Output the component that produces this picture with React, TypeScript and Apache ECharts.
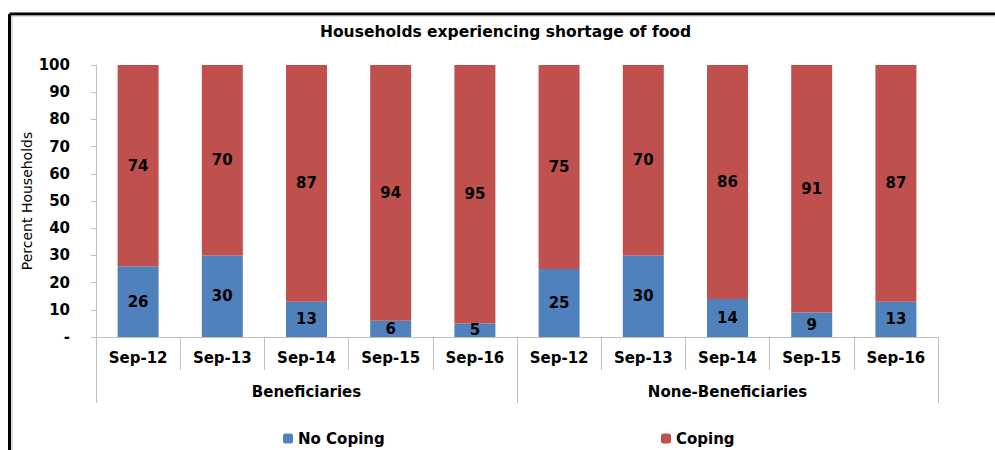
import React, { useEffect, useRef } from "react";
import * as echarts from "echarts";

const periods = ["Sep-12", "Sep-13", "Sep-14", "Sep-15", "Sep-16", "Sep-12", "Sep-13", "Sep-14", "Sep-15", "Sep-16"];
const groups = ["Beneficiaries", "None-Beneficiaries"];
const noCoping = [26, 30, 13, 6, 5, 25, 30, 14, 9, 13];
const coping = [74, 70, 87, 94, 95, 75, 70, 86, 91, 87];

const FONT = "DejaVu Sans";
const AXIS_GRAY = "#BFBFBF";

export default function App() {
  const ref = useRef<HTMLDivElement>(null);
  useEffect(() => {
    if (!ref.current) return;
    const chart = echarts.init(ref.current, null, { renderer: "svg" });
    const labelStyle = { fontFamily: FONT, fontWeight: "bold" as const, fontSize: 15, color: "#000" };
    chart.setOption({
      animation: false,
      backgroundColor: "#fff",
      textStyle: { fontFamily: FONT },
      title: {
        text: "Households experiencing shortage of food",
        left: 315,
        top: 19,
        textStyle: { ...labelStyle, fontSize: 15.5 },
      },
      graphic: [
        { type: "line", shape: { x1: 9.5, y1: 14, x2: 995, y2: 14 }, style: { stroke: "#000", lineWidth: 3 } },
        { type: "line", shape: { x1: 9.5, y1: 14, x2: 9.5, y2: 450 }, style: { stroke: "#000", lineWidth: 3 } },
        { type: "line", shape: { x1: 11, y1: 16, x2: 995, y2: 16 }, style: { stroke: "#BBB", lineWidth: 1 } },
        { type: "line", shape: { x1: 12, y1: 16, x2: 12, y2: 450 }, style: { stroke: "#BBB", lineWidth: 1 } },
      ],
      legend: [
        {
          data: ["No Coping"],
          left: 278,
          top: 426,
          itemWidth: 10,
          itemHeight: 10,
          itemGap: 6,
          textStyle: { ...labelStyle, fontSize: 15 },
        },
        {
          data: ["Coping"],
          left: 656,
          top: 426,
          itemWidth: 10,
          itemHeight: 10,
          itemGap: 6,
          textStyle: { ...labelStyle, fontSize: 15 },
        },
      ],
      grid: { left: 96, right: 57, top: 65, bottom: 113 },
      xAxis: [
        {
          type: "category",
          data: periods,
          position: "bottom",
          axisLine: { show: true, lineStyle: { color: AXIS_GRAY, width: 1 } },
          axisTick: { show: true, length: 33, lineStyle: { color: AXIS_GRAY } },
          axisLabel: { ...labelStyle, margin: 13, interval: 0 },
          splitLine: { show: false },
        },
        {
          type: "category",
          data: groups,
          position: "bottom",
          axisLine: { show: false },
          axisTick: { show: true, length: 66, lineStyle: { color: AXIS_GRAY } },
          axisLabel: { ...labelStyle, margin: 47, interval: 0 },
          splitLine: { show: false },
        },
      ],
      yAxis: {
        type: "value",
        min: 0,
        max: 100,
        interval: 10,
        name: "Percent Households",
        nameLocation: "middle",
        nameGap: 62,
        nameMoveOverlap: false,
        nameRotate: 90,
        nameTextStyle: { fontFamily: FONT, fontSize: 14, color: "#000" },
        axisLine: { show: true, lineStyle: { color: AXIS_GRAY } },
        axisTick: { show: true, length: 5, lineStyle: { color: AXIS_GRAY } },
        axisLabel: {
          ...labelStyle,
          margin: 26,
          formatter: (v: number) => (v === 0 ? "-" : String(v)),
        },
        splitLine: { show: false },
      },
      series: [
        {
          name: "No Coping",
          type: "bar",
          stack: "total",
          xAxisIndex: 0,
          data: noCoping,
          barWidth: 41,
          itemStyle: { color: "#4F81BD" },
          label: { show: true, position: "inside", ...labelStyle },
        },
        {
          name: "Coping",
          type: "bar",
          stack: "total",
          xAxisIndex: 0,
          data: coping,
          barWidth: 41,
          itemStyle: { color: "#C0504D" },
          label: { show: true, position: "inside", ...labelStyle },
        },
      ],
    });
    return () => chart.dispose();
  }, []);
  return (
    <div
      ref={ref}
      style={{ position: "fixed", left: 0, top: 0, width: 995, height: 450 }}
    />
  );
}
